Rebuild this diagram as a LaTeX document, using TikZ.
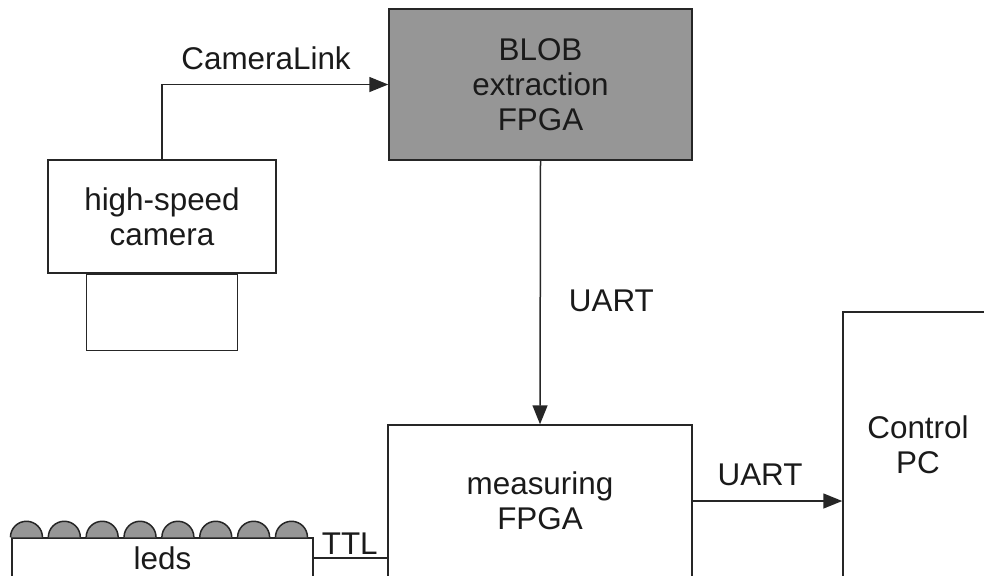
\documentclass[tikz,border=0pt]{standalone}
\usepackage{fontspec}
\setmainfont{Liberation Sans}
\usetikzlibrary{arrows.meta,positioning}
\definecolor{blobgray}{HTML}{969696}
\definecolor{linegray}{HTML}{262626}
\definecolor{textgray}{HTML}{1A1A1A}

\begin{document}
\begin{tikzpicture}[x=0.5pt,y=-0.5pt,>={Triangle[length=9.5pt,width=7.5pt]},line width=0.75pt,draw=linegray,
    box/.style={rectangle,draw=linegray,line width=0.75pt,align=center,inner sep=0pt,text=textgray,font=\fontsize{15.7}{17.5}\selectfont},
    lbl/.style={inner sep=0pt,text=textgray,font=\fontsize{15.7}{17.5}\selectfont},
    led/.style={draw=linegray,fill=blobgray,line width=0.75pt}]

            \useasboundingbox (0,0) rectangle (984,575);

            \node[box, fill=blobgray, minimum width=151.5pt, minimum height=75.5pt] (blob) at (540.5,84.5) {BLOB\\extraction\\FPGA};
            \node[box, minimum width=114pt, minimum height=56.5pt] (cam) at (162,216.5) {high-speed\\camera};
            \node[box, minimum width=75.5pt, minimum height=38pt] (lens) [below=0pt of cam] {};
            \node[box, minimum width=152pt, minimum height=76pt] (meas) at (540,501) {measuring\\FPGA};
            \node[box, minimum width=75pt, minimum height=133pt] (pc) at (918,445) {Control\\PC};
            \node[box, minimum width=150.5pt, minimum height=20pt] (leds) at (162.5,558) {leds};

            % the row of leds on top of the strip
            \foreach \i in {0,...,7}
                \draw[led] ([xshift={-0.4pt+18.93pt*\i}]leds.north west) arc[start angle=180,end angle=0,radius=8pt];

            \draw[->] (cam.north) |- node[lbl, pos=0.73, above=7pt] {CameraLink} (blob.west);
            \draw[->] (blob.south) to node[lbl, pos=0.53, right=14pt] {UART} (meas.north);
            \draw[->] (meas.east) to node[lbl, pos=0.45, above=7pt] {UART} (meas.east -| pc.west);
            \draw[-] (leds.east) to node[lbl, pos=0.49, above=1.4pt] {TTL} (leds.east -| meas.west);

            ;
        \end{tikzpicture}
\end{document}
